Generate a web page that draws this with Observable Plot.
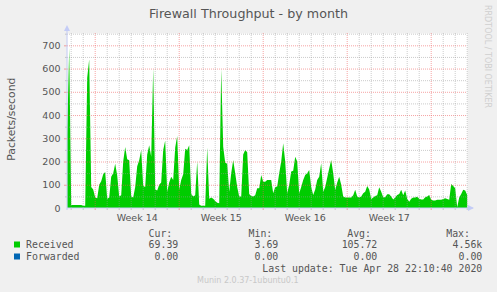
<!DOCTYPE html>
<html><head><meta charset="utf-8">
<script src="https://cdn.jsdelivr.net/npm/d3@7"></script>
<script src="https://cdn.jsdelivr.net/npm/@observablehq/plot@0.6"></script>
<style>
html,body{margin:0;padding:0;background:#f0f0f0;}
#chart{position:relative;width:497px;height:292px;}
</style></head><body><div id="chart"></div>
<script>
const title = "Firewall Throughput - by month";
const yLabel = "Packets/second";
const weekLabels = ["Week 14", "Week 15", "Week 16", "Week 17"];
const weekStartHours = [0, 168, 336, 504, 672];
const yTicks = [0, 100, 200, 300, 400, 500, 600, 700];
const startHour = -55, stepHours = 4;
const received = [
  320, 690, 13, 13, 13, 13, 13, 13, 10, 10,
  560, 640, 90, 80, 45, 42, 100, 115, 145, 155,
  40, 45, 135, 150, 190, 140, 50, 55, 200, 262,
  210, 205, 50, 45, 90, 180, 205, 250, 95, 90,
  230, 270, 220, 600, 80, 75, 100, 110, 250, 290,
  70, 110, 135, 120, 260, 310, 80, 120, 145, 255,
  250, 270, 60, 50, 55, 200, 15, 10, 10, 10,
  260, 40, 45, 40, 30, 23, 20, 598, 264, 195,
  190, 70, 150, 207, 150, 90, 50, 50, 230, 250,
  240, 60, 52, 50, 55, 85, 85, 142, 113, 113,
  120, 120, 120, 63, 90, 92, 150, 200, 279, 200,
  63, 100, 157, 160, 221, 200, 63, 90, 120, 142,
  150, 164, 90, 56, 80, 120, 135, 193, 70, 90,
  130, 170, 207, 150, 77, 110, 135, 100, 49, 45,
  45, 45, 45, 55, 78, 50, 45, 50, 63, 70,
  95, 80, 39, 45, 52, 55, 89, 70, 46, 46,
  59, 59, 50, 37, 45, 56, 60, 78, 55, 75,
  40, 27, 40, 45, 45, 48, 40, 37, 37, 46,
  50, 56, 35, 32, 32, 35, 35, 35, 39, 42,
  39, 35, 103, 95, 85, 3, 45, 60, 78, 75,
  56
];
const seriesNames = ["Received", "Forwarded"];
const seriesColors = ["#00cc00", "#0066b3"];
const statHeaders = ["Cur:", "Min:", "Avg:", "Max:"];
const statReceived = ["69.39", "3.69", "105.72", "4.56k"];
const statForwarded = ["0.00", "0.00", "0.00", "0.00"];
const lastUpdate = "Last update: Tue Apr 28 22:10:40 2020";
const footer = "Munin 2.0.37-1ubuntu0.1";
const vendor = "RRDTOOL / TOBI OETIKER";

const rows = received.map((v, i) => ({h: startHour + stepHours * i, v}));
const xDomain = [-55.4, 744.6];
const dayHours = d3.range(-48, 745, 24).filter(h => !weekStartHours.includes(h));
const weekMid = weekLabels.map((_, i) => weekStartHours[i] + 84);
const labelByHour = new Map(weekMid.map((h, i) => [h, weekLabels[i]]));
const minorY = d3.range(50, 760, 100);
const majorY = yTicks.filter(d => d > 0);
const gridGray = "#9a9a9a", gridRed = "#ee5a5a", axisColor = "#c4ccf6";
const gOp = 0.5, rOp = 0.55;

const plot = Plot.plot({
  width: 497, height: 292,
  marginLeft: 67, marginRight: 30, marginTop: 33, marginBottom: 84,
  style: {background: "transparent", fontFamily: "DejaVu Sans", fontSize: "9.5px", color: "#555", overflow: "visible"},
  x: {type: "linear", domain: xDomain},
  y: {domain: [0, 753]},
  marks: [
    Plot.frame({fill: "white", stroke: null}),
    Plot.areaY(rows, {x: "h", y: "v", fill: seriesColors[0]}),
    Plot.ruleY(minorY, {stroke: gridGray, strokeOpacity: gOp, strokeDasharray: "1,1"}),
    Plot.ruleY(majorY, {stroke: gridRed, strokeOpacity: rOp, strokeDasharray: "1,1"}),
    Plot.ruleX(dayHours, {stroke: gridGray, strokeOpacity: gOp, strokeDasharray: "1,1"}),
    Plot.ruleX(weekStartHours, {stroke: gridRed, strokeOpacity: rOp, strokeDasharray: "1,1"}),
    Plot.axisY({ticks: minorY, tickSize: 2, tickFormat: () => "", stroke: gridGray, strokeOpacity: gOp, label: null}),
    Plot.axisY({ticks: majorY, tickSize: 3, tickFormat: () => "", stroke: gridRed, strokeOpacity: rOp, label: null}),
    Plot.axisY({ticks: yTicks, tickSize: 0, tickPadding: 7, label: null}),
    Plot.axisX({ticks: dayHours, tickSize: 2, tickFormat: () => "", stroke: gridGray, strokeOpacity: gOp, label: null}),
    Plot.axisX({ticks: weekStartHours, tickSize: 2, tickFormat: () => "", stroke: gridRed, strokeOpacity: rOp, label: null}),
    Plot.axisX({ticks: weekMid, tickSize: 0, tickPadding: 5.5, tickFormat: d => labelByHour.get(d), label: null})
  ]
});
document.getElementById("chart").appendChild(plot);

const svg = d3.select(plot);
const sx = plot.scale("x"), sy = plot.scale("y");
const x0 = sx.apply(xDomain[0]), x1 = sx.apply(xDomain[1]), y0 = sy.apply(0);
const deco = svg.append("g").attr("text-anchor", "start");
// axes lines and arrows
deco.append("line").attr("x1", x0).attr("x2", x1 + 6).attr("y1", y0).attr("y2", y0).attr("stroke", axisColor);
deco.append("line").attr("x1", x0).attr("x2", x0).attr("y1", y0 + 2).attr("y2", 27).attr("stroke", axisColor);
deco.append("path").attr("d", `M${x0 - 3},31L${x0 + 3},31L${x0},25Z`).attr("fill", axisColor);
deco.append("path").attr("d", `M${x1 + 1},${y0 - 3}L${x1 + 1},${y0 + 3}L${x1 + 7},${y0}Z`).attr("fill", axisColor);

// title
deco.append("text").attr("x", 248.5).attr("y", 17.5).attr("text-anchor", "middle")
  .style("font-family", "DejaVu Sans").style("font-size", "12.7px").attr("fill", "#555").text(title);
// y label
deco.append("text").attr("transform", "translate(15,119.2) rotate(-90)").attr("text-anchor", "middle")
  .style("font-family", "DejaVu Sans").style("font-size", "10.8px").attr("fill", "#555").text(yLabel);
// vendor
deco.append("text").attr("transform", "translate(484.5,5) rotate(90)").attr("text-anchor", "start")
  .style("font-family", "DejaVu Sans").style("font-size", "8px").attr("fill", "#cfcfcf").text(vendor);

// legend
const mono = g => g.style("font-family", "DejaVu Sans Mono").style("font-size", "9.9px").attr("fill", "#555");
const headerRight = [172.3, 272.3, 371, 470];
const valueRight = [178.3, 278.3, 377.3, 482.3];
statHeaders.forEach((t, i) => mono(deco.append("text").attr("x", headerRight[i]).attr("y", 236.5).attr("text-anchor", "end").text(t)));
[statReceived, statForwarded].forEach((vals, r) => {
  const yb = 247.5 + 12 * r;
  deco.append("rect").attr("x", 14).attr("y", yb - 6).attr("width", 6).attr("height", 6).attr("fill", seriesColors[r]);
  mono(deco.append("text").attr("x", 26).attr("y", yb).attr("text-anchor", "start").text(seriesNames[r]));
  vals.forEach((t, i) => mono(deco.append("text").attr("x", valueRight[i]).attr("y", yb).attr("text-anchor", "end").text(t)));
});
mono(deco.append("text").attr("x", 482.3).attr("y", 271.5).attr("text-anchor", "end").text(lastUpdate));
deco.append("text").attr("x", 247.8).attr("y", 283).attr("text-anchor", "middle")
  .style("font-family", "DejaVu Sans").style("font-size", "8px").attr("fill", "#c8c8c8").text(footer);
</script></body></html>
